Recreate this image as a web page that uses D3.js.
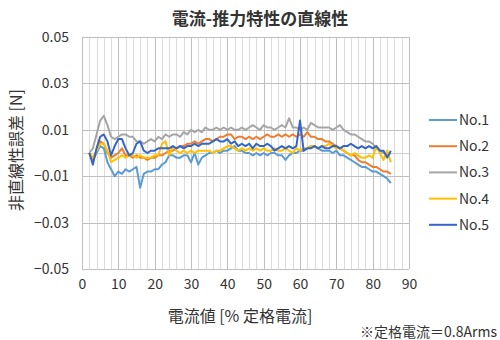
<!DOCTYPE html>
<html><head><meta charset="utf-8">
<script src="https://cdn.jsdelivr.net/npm/d3@7"></script>
<style>body{margin:0;background:#fff}svg{display:block}text{font-family:"Noto Sans CJK JP","Noto Sans",sans-serif;fill:#333}</style>
</head><body><svg id="c" width="500" height="340"></svg>
<script>
const xValues = d3.range(2, 86);
const seriesNames = ["No.1","No.2","No.3","No.4","No.5"];
const colors = ["#5B9BD5","#ED7D31","#A5A5A5","#FFC000","#3565C6"];
const no1 = [0.000,-0.003,0.000,0.003,0.002,-0.004,-0.007,-0.010,-0.008,-0.009,-0.007,-0.008,-0.007,-0.006,-0.015,-0.009,-0.008,-0.008,-0.007,-0.007,-0.005,-0.004,-0.001,-0.001,-0.002,-0.002,-0.001,-0.001,-0.004,0.000,-0.005,-0.002,-0.001,0.000,0.000,0.001,0.000,0.001,0.001,0.002,0.003,0.001,0.001,0.000,0.000,-0.001,0.000,-0.001,0.000,-0.001,0.000,0.000,-0.001,-0.001,-0.003,-0.001,0.000,0.000,0.001,0.001,0.002,0.003,0.003,0.002,0.001,0.001,0.001,0.000,0.001,-0.001,-0.001,-0.002,-0.003,-0.004,-0.005,-0.006,-0.006,-0.007,-0.008,-0.008,-0.009,-0.010,-0.011,-0.013];
const no2 = [0.000,-0.003,0.001,0.005,0.004,0.000,-0.002,-0.001,0.000,0.002,-0.001,-0.001,-0.002,-0.001,-0.002,-0.002,-0.003,-0.002,-0.002,-0.001,-0.001,0.000,0.001,0.001,0.002,0.003,0.003,0.004,0.004,0.005,0.004,0.005,0.006,0.006,0.005,0.006,0.007,0.007,0.008,0.008,0.006,0.007,0.007,0.006,0.007,0.006,0.007,0.006,0.007,0.008,0.007,0.007,0.008,0.007,0.008,0.007,0.008,0.007,0.008,0.007,0.009,0.007,0.007,0.006,0.006,0.005,0.005,0.004,0.003,0.002,0.001,0.000,-0.001,-0.001,-0.003,-0.004,-0.004,-0.005,-0.006,-0.006,-0.007,-0.008,-0.008,-0.009];
const no3 = [0.000,0.002,0.008,0.014,0.016,0.012,0.007,0.006,0.007,0.008,0.008,0.007,0.007,0.005,0.005,0.004,0.005,0.006,0.005,0.007,0.006,0.008,0.007,0.008,0.008,0.007,0.009,0.008,0.010,0.009,0.010,0.009,0.011,0.010,0.010,0.011,0.010,0.011,0.010,0.011,0.010,0.010,0.011,0.010,0.011,0.012,0.011,0.010,0.012,0.011,0.011,0.010,0.011,0.012,0.011,0.015,0.011,0.011,0.010,0.011,0.010,0.013,0.012,0.011,0.011,0.011,0.011,0.010,0.011,0.012,0.010,0.009,0.008,0.008,0.007,0.006,0.005,0.005,0.004,0.002,0.001,0.000,-0.001,0.000];
const no4 = [0.000,-0.002,0.001,0.004,0.004,0.001,-0.004,-0.003,-0.002,-0.001,-0.002,-0.001,-0.001,-0.002,-0.001,-0.002,-0.002,-0.002,-0.001,-0.001,0.004,0.005,-0.001,0.003,0.001,0.000,0.001,0.000,0.001,0.000,0.001,0.001,0.001,0.001,0.000,0.001,0.001,0.002,0.003,0.003,0.002,0.001,0.002,0.001,0.002,0.001,0.002,0.001,0.002,0.001,0.001,0.002,0.001,0.001,0.002,0.001,0.000,0.002,0.001,0.002,0.002,0.003,0.003,0.002,0.003,0.003,0.004,0.003,0.002,0.002,0.001,0.000,-0.001,0.000,-0.001,-0.002,-0.002,-0.001,-0.002,0.003,0.000,-0.003,0.001,-0.004];
const no5 = [0.000,-0.005,0.002,0.007,0.008,0.005,-0.001,0.003,0.006,0.006,0.002,-0.001,0.000,0.004,0.005,0.001,0.000,0.001,0.001,0.002,0.002,0.002,0.002,0.003,0.002,0.003,0.002,0.003,0.003,0.004,0.003,0.004,0.004,0.004,0.005,0.006,0.005,0.005,0.006,0.004,0.005,0.003,0.004,0.003,0.004,0.002,0.004,0.003,0.003,0.004,0.003,0.001,0.002,0.003,0.002,0.003,0.002,0.003,0.014,0.001,0.002,0.002,0.003,0.002,0.003,0.002,0.002,0.003,0.003,0.002,0.003,0.003,0.004,0.003,0.002,0.003,0.002,0.003,0.002,0.003,0.001,0.001,-0.002,0.001];
const yTicks = [0.05,0.03,0.01,-0.01,-0.03,-0.05];
const xTicks = [0,10,20,30,40,50,60,70,80,90];
const title = "電流-推力特性の直線性";
const xTitle = "電流値 [% 定格電流]";
const yTitle = "非直線性誤差 [N]";
const note = "※定格電流＝0.8Arms";

const series = [no1,no2,no3,no4,no5];
const svg = d3.select("#c");
const L=82,R=409,T=37,B=269;
const x = d3.scaleLinear().domain([0,90]).range([L,R]);
const y = d3.scaleLinear().domain([-0.05,0.05]).range([B,T]);

const g = svg.append("g");
g.selectAll(".mv").data(d3.range(0,91,2).filter(v=>v%10!==0)).join("line")
 .attr("x1",d=>Math.round(x(d))+0.5).attr("x2",d=>Math.round(x(d))+0.5).attr("y1",T).attr("y2",B)
 .attr("stroke","#dcdcdc").attr("stroke-width",1);
g.selectAll(".Mv").data(xTicks).join("line")
 .attr("x1",d=>Math.round(x(d))+0.5).attr("x2",d=>Math.round(x(d))+0.5).attr("y1",T).attr("y2",B)
 .attr("stroke","#bfbfbf").attr("stroke-width",1);
g.selectAll(".Mh").data(yTicks).join("line")
 .attr("x1",L).attr("x2",R).attr("y1",d=>Math.round(y(d))+0.5).attr("y2",d=>Math.round(y(d))+0.5)
 .attr("stroke","#bfbfbf").attr("stroke-width",1);
g.append("line").attr("x1",L).attr("x2",R).attr("y1",Math.round(y(0))+0.5).attr("y2",Math.round(y(0))+0.5)
 .attr("stroke","#cfcfcf").attr("stroke-width",1);

const ya = svg.append("g").attr("transform",`translate(${L},0)`)
 .call(d3.axisLeft(y).tickValues(yTicks).tickFormat(d3.format(".2f")).tickSize(0).tickPadding(13));
ya.select(".domain").remove();
ya.selectAll("text").attr("font-size",14).attr("fill","#404040").style("font-family",'"Noto Sans CJK JP",sans-serif');
const xa = svg.append("g").attr("transform",`translate(0,${B})`)
 .call(d3.axisBottom(x).tickValues(xTicks).tickFormat(d3.format("d")).tickSize(0).tickPadding(10));
xa.select(".domain").remove();
xa.selectAll("text").attr("font-size",14).attr("fill","#404040").style("font-family",'"Noto Sans CJK JP",sans-serif');

const line = d3.line().x((d,i)=>x(xValues[i])).y(d=>y(d));
series.forEach((s,i)=>{
  svg.append("path").datum(s).attr("d",line).attr("fill","none")
   .attr("stroke",colors[i]).attr("stroke-width",2).attr("stroke-linejoin","round");
});

const lg = svg.append("g");
seriesNames.forEach((n,i)=>{
  const yy = 120 + i*26.2;
  lg.append("line").attr("x1",429).attr("x2",457).attr("y1",yy).attr("y2",yy)
    .attr("stroke",colors[i]).attr("stroke-width",2);
  lg.append("text").attr("x",459).attr("y",yy+5).attr("font-size",14).attr("fill","#404040").text(n);
});

svg.append("text").attr("x",260).attr("y",25).attr("text-anchor","middle")
 .attr("font-size",17).attr("font-weight","bold").attr("fill","#404040").text(title);
svg.append("text").attr("x",240).attr("y",322).attr("text-anchor","middle")
 .attr("font-size",16).attr("fill","#333").text(xTitle);
svg.append("text").attr("transform","translate(22,150) rotate(-90)").attr("text-anchor","middle")
 .attr("font-size",16).attr("fill","#333").text(yTitle);
svg.append("text").attr("x",497).attr("y",337).attr("text-anchor","end")
 .attr("font-size",14).attr("fill","#333").text(note);
</script></body></html>
